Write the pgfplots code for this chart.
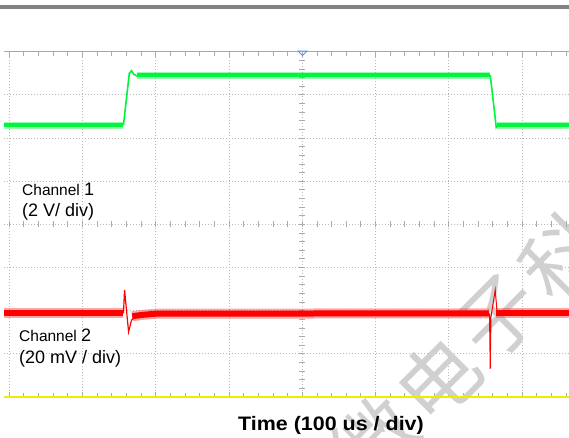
\documentclass[border=0pt]{standalone}
\usepackage{pgfplots}
\pgfplotsset{compat=1.18}
\usepackage{fontspec}
\setmainfont{Liberation Sans}
\newfontfamily\cjk{Noto Sans CJK SC}
\definecolor{scgreen}{RGB}{0,245,60}
\definecolor{scred}{RGB}{255,0,0}
\definecolor{scyellow}{RGB}{240,235,0}
\definecolor{gridgray}{RGB}{185,185,185}
\definecolor{tickgray}{RGB}{170,170,170}
\definecolor{bargray}{RGB}{130,130,130}
\definecolor{wmgray}{RGB}{208,208,208}
\definecolor{trigblue}{RGB}{80,150,240}

\begin{document}
\begin{tikzpicture}[x=1pt,y=1pt]
\begin{axis}[
  name=ax,
  width=565pt, height=345.3pt, scale only axis,
  xmin=-4.07, xmax=3.64, ymin=0, ymax=8,
  axis line style={draw=none},
  xtick={-5,...,4}, ytick={0,...,8},
  xticklabels={}, yticklabels={},
  minor x tick num=4,
  tick align=inside, tick pos=both,
  major tick length=5pt, minor tick length=4pt,
  xtick style={tickgray, line width=0.8pt},
  ytick style={draw=none},
  grid=major,
  grid style={gridgray, line width=0.8pt, dash pattern=on 1pt off 2pt},
  clip=false,
]
% watermark
\node[rotate=45, text=wmgray, inner sep=0, font=\cjk\fontsize{80}{80}\selectfont] at (axis cs:1.0,-1.0) {微};
\node[rotate=45, text=wmgray, inner sep=0, font=\cjk\fontsize{80}{80}\selectfont] at (axis cs:1.85,0.42) {电};
\node[rotate=45, text=wmgray, inner sep=0, font=\cjk\fontsize{80}{80}\selectfont] at (axis cs:2.70,1.84) {子};
\node[rotate=45, text=wmgray, inner sep=0, font=\cjk\fontsize{80}{80}\selectfont] at (axis cs:3.55,3.26) {科};

% crosshair ticks
\pgfplotsinvokeforeach{0.2,0.4,...,7.81}{
  \draw[tickgray, line width=0.8pt] ([xshift=-3pt]axis cs:0,#1) -- ([xshift=3pt]axis cs:0,#1);
}
\pgfplotsinvokeforeach{-4,-3.8,...,3.61}{
  \draw[tickgray, line width=0.8pt] ([yshift=-3pt]axis cs:#1,4) -- ([yshift=3pt]axis cs:#1,4);
}
% frame lines
\draw[tickgray, line width=1pt] (axis cs:-4.07,8) -- (axis cs:3.7,8);
\draw[scyellow, line width=2pt] (axis cs:-4.07,0) -- (axis cs:3.7,0);

% Channel 1 (green)
\addplot[scgreen, opacity=0.4, line width=7pt] coordinates {(-4.07,6.30) (-2.44,6.30)};
\addplot[scgreen, opacity=0.4, line width=7pt] coordinates {(-2.25,7.46) (2.565,7.46)};
\addplot[scgreen, opacity=0.4, line width=7pt] coordinates {(2.66,6.30) (3.64,6.30)};
\addplot[scgreen, line width=4pt] coordinates {(-4.07,6.30) (-2.44,6.30)};
\addplot[scgreen, line width=1.6pt] coordinates {(-2.44,6.30) (-2.36,7.50) (-2.33,7.56) (-2.30,7.48) (-2.26,7.44) (-2.22,7.46)};
\addplot[scgreen, line width=4pt] coordinates {(-2.25,7.46) (2.565,7.46)};
\addplot[scgreen, line width=1.6pt] coordinates {(2.565,7.46) (2.61,6.8) (2.647,6.25) (2.67,6.31) (2.70,6.30)};
\addplot[scgreen, line width=4pt] coordinates {(2.66,6.30) (3.64,6.30)};

% Channel 2 (red)
\addplot[scred, opacity=0.35, line width=10pt] coordinates {(-4.07,1.94) (-2.44,1.94)};
\addplot[scred, opacity=0.35, line width=10pt] coordinates {(-2.32,1.87) (-2.2,1.90) (-2.0,1.93) (2.55,1.94)};
\addplot[scred, opacity=0.35, line width=10pt] coordinates {(2.645,1.94) (3.64,1.94)};
\addplot[scred, line width=6pt] coordinates {(-4.07,1.94) (-2.44,1.94)};
\addplot[scred, line width=1.2pt] coordinates {(-2.44,1.94) (-2.425,2.48) (-2.37,1.51) (-2.33,1.78) (-2.28,1.86)};
\addplot[scred, line width=6pt] coordinates {(-2.32,1.87) (-2.2,1.90) (-2.0,1.93) (2.55,1.94)};
\addplot[scred, line width=1pt] coordinates {(2.555,1.94) (2.565,0.65) (2.575,1.85) (2.633,2.48) (2.66,1.94)};
\addplot[scred, line width=6pt] coordinates {(2.645,1.94) (3.64,1.94)};
\end{axis}

\pgfresetboundingbox
\begin{scope}[shift={(ax.south west)}, xshift=-4pt, yshift=-40pt]
\useasboundingbox (0,0) rectangle (569,437);
% top bar and trigger marker
\fill[bargray] (0,428) rectangle (569,432);
\draw[trigblue, line width=0.8pt] (298,386) -- (307,386) -- (302.5,381.5) -- cycle;

% labels
\node[anchor=base west, inner sep=0, font=\fontsize{15.5}{18}\selectfont] at (22,242) {Channel {\fontsize{18}{20}\selectfont 1}};
\node[anchor=base west, inner sep=0, font=\fontsize{18}{20}\selectfont] at (22,220.5) {(2 V/ div)};
\node[anchor=base west, inner sep=0, font=\fontsize{15.5}{18}\selectfont] at (19,95.3) {Channel {\fontsize{18}{20}\selectfont 2}};
\node[anchor=base west, inner sep=0, font=\fontsize{18}{20}\selectfont] at (19,74) {(20 mV / div)};
\node[anchor=base, inner sep=0, xscale=1.1, font=\bfseries\fontsize{19.5}{22}\selectfont] at (331,7) {Time (100 us / div)};
\end{scope}
\end{tikzpicture}
\end{document}
